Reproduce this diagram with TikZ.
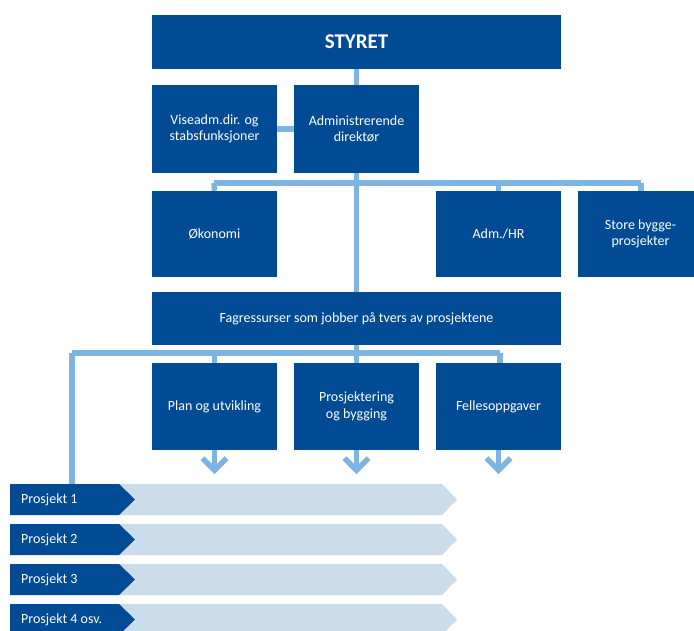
\documentclass[tikz,border=0pt]{standalone}
\usepackage{fontspec}
\setmainfont{Carlito}
\usetikzlibrary{calc}
\definecolor{dblue}{RGB}{0,75,148}
\definecolor{lblue}{RGB}{125,180,224}
\definecolor{pblue}{RGB}{203,220,235}
\begin{document}
\begin{tikzpicture}[x=1pt,y=-1pt,
  box/.style={fill=dblue,text=white,minimum width=125pt,minimum height=87pt,inner sep=2pt,align=center,font=\fontsize{14}{16.5}\selectfont},
  wide/.style={box,minimum width=409pt,minimum height=54pt},
  conn/.style={draw=lblue,line width=5.5pt},
  chev/.style={draw=lblue,line width=5.5pt,miter limit=10},
  ptext/.style={text=white,anchor=west,inner sep=0pt,font=\fontsize{14}{16.5}\selectfont}]
\useasboundingbox (0,0) rectangle (694,630);
\clip (0,0) rectangle (694,630);
\coordinate (b1l) at (214,183);
\coordinate (b1r) at (641,183);
\coordinate (b2l) at (72,353);
\coordinate (b2r) at (500,353);
\coordinate (bar1) at (72,484);
% boxes
\node[wide,font=\fontsize{21}{23}\selectfont\bfseries] (styret) at (356.5,42) {STYRET};
\node[box,minimum height=88pt] (vise) at (214.5,129) {Viseadm.dir. og\\stabsfunksjoner};
\node[box,minimum height=88pt] (adm) at (356.5,129) {Administrerende\\direktør};
\node[box,minimum height=86pt] (oko) at (214.5,234) {Økonomi};
\node[box,minimum height=86pt] (hr) at (498.5,234) {Adm./HR};
\node[box,minimum height=86pt] (store) at (640.5,234) {Store bygge-\\prosjekter};
\node[wide,minimum height=53pt] (fag) at (356.5,318.5) {Fagressurser som jobber på tvers av prosjektene};
\node[box] (plan) at (214.5,406.5) {Plan og utvikling};
\node[box] (pros) at (356.5,406.5) {Prosjektering\\og bygging};
\node[box] (fell) at (498.5,406.5) {Fellesoppgaver};
% project bars
\foreach \i/\t in {1/Prosjekt 1,2/Prosjekt 2,3/Prosjekt 3,4/Prosjekt 4 osv.}{
  \pgfmathsetmacro{\yt}{484+40*(\i-1)}
  \pgfmathsetmacro{\yb}{\yt+31}
  \pgfmathsetmacro{\ym}{\yt+15.5}
  \fill[pblue] (110,\yt) -- (442,\yt) -- (457,\ym) -- (442,\yb) -- (110,\yb) -- cycle;
  \fill[dblue] (10,\yt) -- (119,\yt) -- (135,\ym) -- (119,\yb) -- (10,\yb) -- cycle;
  \node[ptext] (p\i) at (21,\ym) {\t};
}
% connector lines
\draw[conn] (styret.south) -- (adm.north);
\draw[conn] (vise.east) -- (adm.west);
\draw[conn] (adm.south) -- (fag.north);
\draw[conn] (b1l) -- (b1r);
\draw[conn] (b1l) -- (oko.north);
\draw[conn] (hr.north |- b1l) -- (hr.north);
\draw[conn] (b1r) -- (b1r |- store.north);
\draw[conn] (b2l) -- (b2r);
\draw[conn] (fag.south) -- (pros.north);
\draw[conn] (plan.north |- b2l) -- (plan.north);
\draw[conn] (b2r) -- (b2r |- fell.north);
\draw[conn] (b2l) -- (bar1);
% down arrows
\foreach \n in {plan,pros,fell}{
  \draw[conn] (\n.south) -- ++(0,20);
  \draw[chev] ($(\n.south)+(-12,8)$) -- ($(\n.south)+(0,20)$) -- ($(\n.south)+(12,8)$);
}
\end{tikzpicture}
\end{document}
